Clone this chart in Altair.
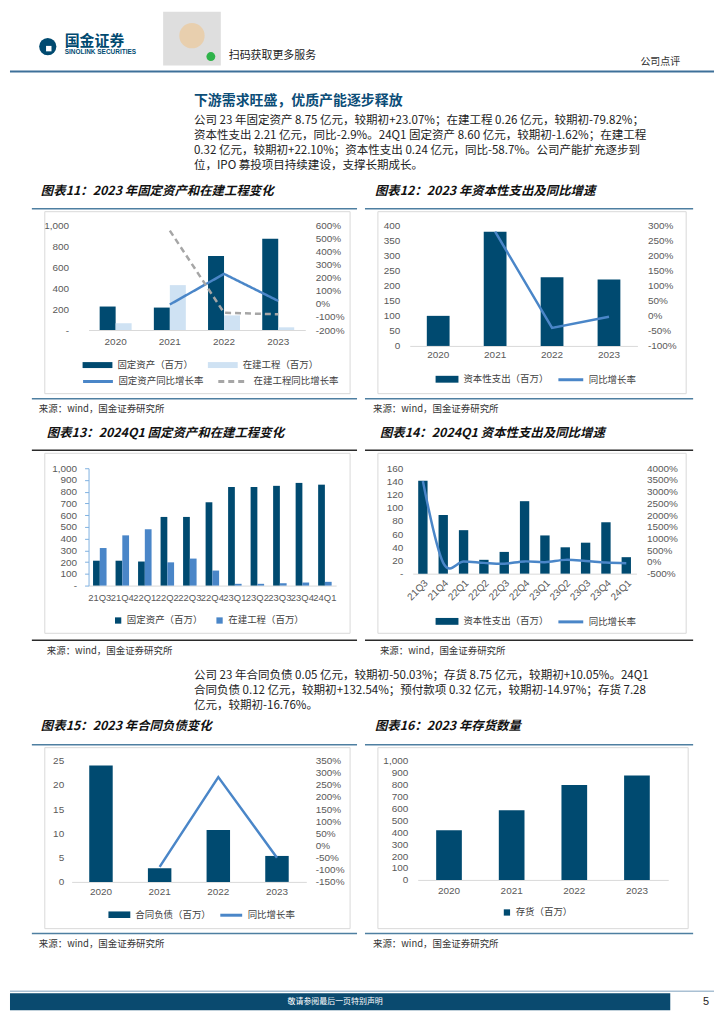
import altair as alt
import pandas as pd

# ---------------- data ----------------
years = ["2020", "2021", "2022", "2023"]
fixed_assets = [225, 215, 710, 875]
construction = [65, 430, 140, 26]
fixed_yoy = [None, -4.4, 230.2, 23.07]
construction_yoy = [None, 561.5, -67.4, -79.82]

capex = [100, 380, 228, 221]
capex_yoy = [None, 280.0, -40.0, -2.9]

quarters = ["21Q3", "21Q4", "22Q1", "22Q2", "22Q3", "22Q4", "23Q1", "23Q2", "23Q3", "23Q4", "24Q1"]
fixed_q = [212, 212, 205, 585, 585, 710, 840, 840, 850, 875, 860]
construction_q = [320, 428, 480, 198, 230, 128, 15, 15, 20, 26, 32]

capex_q = [141, 89, 66, 21, 33, 110, 58, 40, 47, 78, 25]
capex_q_yoy = [3450, -40, 20, -40, -76, 23, -12, 88, 42, -29, -58.7]

contract = [24.0, 2.8, 10.7, 5.35]
contract_yoy = [None, -88.3, 282.1, -50.03]

inventory = [417, 583, 795, 875]

S_FA = "固定资产（百万）"
S_CIP = "在建工程（百万）"
S_FA_Y = "固定资产同比增长率"
S_CIP_Y = "在建工程同比增长率"
S_CAPEX = "资本性支出（百万）"
S_YOY = "同比增长率"
S_CL = "合同负债（百万）"
S_INV = "存货（百万）"

para1 = [
    "公司 23 年固定资产 8.75 亿元，较期初+23.07%；在建工程 0.26 亿元，较期初-79.82%；",
    "资本性支出 2.21 亿元，同比-2.9%。24Q1 固定资产 8.60 亿元，较期初-1.62%；在建工程",
    "0.32 亿元，较期初+22.10%；资本性支出 0.24 亿元，同比-58.7%。公司产能扩充逐步到",
    "位，IPO 募投项目持续建设，支撑长期成长。",
]
para2 = [
    "公司 23 年合同负债 0.05 亿元，较期初-50.03%；存货 8.75 亿元，较期初+10.05%。24Q1",
    "合同负债 0.12 亿元，较期初+132.54%；预付款项 0.32 亿元，较期初-14.97%；存货 7.28",
    "亿元，较期初-16.76%。",
]

# ---------------- style ----------------
CJK = "Noto Sans CJK SC"
FONT = "Liberation Sans"
DARK = "#004a70"
LIGHT = "#cfe2f3"
MID = "#4a86c8"
LINEC = "#4a86c8"
GRAYD = "#a6a6a6"
AX = "#595959"
BOXC = "#d9d9d9"
RULEB = "#4e7fa1"
RULEK = "#2b2b2b"
SRC = "来源：wind，国金证券研究所"
PSIZE = 11.6
PSTEP = 15.3

ONE = pd.DataFrame({"k": [0]})


def txt(o, x, y, s, size=12, color="#222222", weight="normal", style="normal", align="left", font=CJK):
    return alt.Chart(ONE).mark_text(
        text=s, align=align, baseline="middle", fontSize=size, color=color,
        font=font, fontWeight=weight, fontStyle=style
    ).encode(x=alt.value(x - o[0]), y=alt.value(y - o[1]))


def rule(o, x1, x2, y1, y2, color, sw=1.0):
    return alt.Chart(ONE).mark_rule(color=color, strokeWidth=sw).encode(
        x=alt.value(x1 - o[0]), x2=alt.value(x2 - o[0]),
        y=alt.value(y1 - o[1]), y2=alt.value(y2 - o[1]))


def rect(o, x1, x2, y1, y2, fill="transparent", stroke=None, sw=1.0):
    kw = {"fill": fill}
    if stroke:
        kw["stroke"] = stroke
        kw["strokeWidth"] = sw
    return alt.Chart(ONE).mark_rect(**kw).encode(
        x=alt.value(x1 - o[0]), x2=alt.value(x2 - o[0]),
        y=alt.value(y1 - o[1]), y2=alt.value(y2 - o[1]))


def dot(o, x, y, size, color, shape="circle"):
    return alt.Chart(ONE).mark_point(shape=shape, size=size, fill=color, filled=True, opacity=1,
                                     strokeWidth=0).encode(x=alt.value(x - o[0]), y=alt.value(y - o[1]))


def panel_deco(o, title, tpos, rx, rtop, rbot, rcolor, bx, src_pos):
    return [
        txt(o, tpos[0], tpos[1], title, size=12.5, color="#111111", weight="bold", style="italic"),
        rule(o, rx[0], rx[1], rtop, rtop, rcolor, 1.5),
        rect(o, bx[0], bx[1], bx[2], bx[3], stroke=BOXC, sw=1),
        rule(o, rx[0], rx[1], rbot, rbot, rcolor, 1.5),
        txt(o, src_pos[0], src_pos[1], SRC, size=9.5, color="#333333"),
    ]


def xenc(cats, pi, pad, angle=0, size=10, rng=None):
    sk = dict(domain=cats, paddingInner=pi, paddingOuter=pi / 2)
    if rng:
        sk["range"] = rng
    return alt.X("cat:N", sort=cats, scale=alt.Scale(**sk),
                 axis=alt.Axis(title=None, labelAngle=angle, labelPadding=pad, labelFontSize=size,
                               labelColor=AX, labelFont=FONT, domainColor=BOXC, ticks=False,
                               tickSize=0, grid=False))


def yaxis(values, expr, pad, orient="left", domain=False, dcolor=None):
    kw = dict(values=values, labelExpr=expr, grid=False, labelPadding=pad, labelFontSize=10,
              labelColor=AX, labelFont=FONT, title=None, orient=orient)
    if domain:
        kw.update(domain=True, domainColor=dcolor, ticks=True, tickColor=dcolor, tickSize=4)
    else:
        kw.update(domain=False, ticks=False, tickSize=0)
    return alt.Axis(**kw)


def legend(x, y, stype, ssize, colpad=12, sw=None):
    kw = dict(title=None, orient="none", legendX=x, legendY=y, direction="horizontal",
              symbolType=stype, symbolSize=ssize, labelFont=CJK, labelFontSize=9.5,
              labelColor="#404040", labelOffset=4, columnPadding=colpad, padding=0)
    if sw:
        kw["symbolStrokeWidth"] = sw
    return alt.Legend(**kw)


def bar_path(h):
    return "M-1,-%sH1V%sH-1Z" % (h, h)


ZERO_DASH = "datum.value == 0 ? '-' : format(datum.value, ',')"
PLAIN = "format(datum.value, ',')"
PCT = "datum.value + '%'"


def long_df(cats, series_list):
    rows = []
    for name, arr in series_list:
        for c, v in zip(cats, arr):
            if v is not None:
                rows.append({"cat": c, "series": name, "value": v})
    return pd.DataFrame(rows)


# ---------------- chart 11 (+ page header) ----------------
o11 = (87, 223)
header_layers = [
    dot(o11, 46, 43, 300, DARK),
    dot(o11, 47, 45, 30, "white", shape="square"),
    txt(o11, 63, 37, "国金证券", size=15, color=DARK, weight="bold"),
    txt(o11, 63, 48, "SINOLINK SECURITIES", size=6.5, color=DARK, weight="bold", font=FONT),
    rect(o11, 162, 220, 8, 62, fill="#dedede"),
    dot(o11, 191, 32, 650, "#e8cfae"),
    dot(o11, 210, 53, 80, "#2fb34a"),
    txt(o11, 228, 52, "扫码获取更多服务", size=11, color="#222222"),
    txt(o11, 642, 58, "公司点评", size=10, color="#333333"),
    rule(o11, 8, 716, 68, 68, "#3e7099", 2),
    txt(o11, 193, 98, "下游需求旺盛，优质产能逐步释放", size=14, color="#0b4d77", weight="bold"),
]
for i, line in enumerate(para1):
    header_layers.append(txt(o11, 193, 117.5 + PSTEP * i, line, size=PSIZE, color="#222222"))

x11 = xenc(years, 0.41, 7)
df11b = long_df(years, [(S_FA, fixed_assets), (S_CIP, construction)])
df11l = long_df(years, [(S_FA_Y, fixed_yoy), (S_CIP_Y, construction_yoy)])
bars11 = alt.Chart(df11b).mark_bar().encode(
    x=x11,
    xOffset=alt.XOffset("series:N", sort=[S_FA, S_CIP], scale=alt.Scale(domain=[S_FA, S_CIP], paddingInner=0, paddingOuter=0)),
    y=alt.Y("value:Q", scale=alt.Scale(domain=[0, 1000], nice=False),
            axis=yaxis(list(range(0, 1001, 200)), ZERO_DASH, 20)),
    fill=alt.Fill("series:N", scale=alt.Scale(domain=[S_FA, S_CIP], range=[DARK, LIGHT]),
                  legend=legend(-7, 124, bar_path(0.2), 900, colpad=13)),
)
leg11 = legend(-7, 140, "stroke", 900, colpad=8, sw=3)
lines11 = alt.Chart(df11l).mark_line(strokeWidth=2.5).encode(
    x=x11,
    y=alt.Y("value:Q", scale=alt.Scale(domain=[-200, 600], nice=False),
            axis=yaxis(list(range(-200, 601, 100)), PCT, 10, orient="right")),
    stroke=alt.Stroke("series:N", scale=alt.Scale(domain=[S_FA_Y, S_CIP_Y], range=[LINEC, GRAYD]), legend=leg11),
    strokeDash=alt.StrokeDash("series:N", scale=alt.Scale(domain=[S_FA_Y, S_CIP_Y], range=[[1, 0], [6, 4]]), legend=leg11),
)
p11 = alt.layer(
    *header_layers,
    *panel_deco(o11, "图表11：2023 年固定资产和在建工程变化", (39, 188),
                (30, 357), 206, 397, RULEB, (43, 350, 209, 392), (37, 407)),
    bars11, lines11
).resolve_scale(y="independent").properties(width=218, height=105)

# ---------------- chart 12 ----------------
o12 = (410, 223)
x12 = xenc(years, 0.6, 4)
df12b = long_df(years, [(S_CAPEX, capex)])
df12l = long_df(years, [(S_YOY, capex_yoy)])
bars12 = alt.Chart(df12b).mark_bar().encode(
    x=x12,
    y=alt.Y("value:Q", scale=alt.Scale(domain=[0, 400], nice=False),
            axis=yaxis(list(range(0, 401, 50)), PLAIN, 10)),
    fill=alt.Fill("series:N", scale=alt.Scale(domain=[S_CAPEX], range=[DARK]),
                  legend=legend(25, 142, bar_path(0.3), 529)),
)
lines12 = alt.Chart(df12l).mark_line(strokeWidth=2.5).encode(
    x=x12,
    y=alt.Y("value:Q", scale=alt.Scale(domain=[-100, 300], nice=False),
            axis=yaxis(list(range(-100, 301, 50)), PCT, 10, orient="right")),
    stroke=alt.Stroke("series:N", scale=alt.Scale(domain=[S_YOY], range=[LINEC]),
                      legend=legend(148, 141, "stroke", 625, sw=3)),
)
p12 = alt.layer(
    *panel_deco(o12, "图表12：2023 年资本性支出及同比增速", (375, 188),
                (365, 695), 206, 397, RULEB, (378, 688, 209, 392), (373, 407)),
    bars12, lines12
).resolve_scale(y="independent").properties(width=229, height=121)

# ---------------- chart 13 (+ text block 2) ----------------
o13 = (87, 467)
text2_layers = [txt(o13, 193, 676 + PSTEP * i, line, size=PSIZE, color="#222222") for i, line in enumerate(para2)]
x13 = xenc(quarters, 0.4, 7, size=9.5)
df13b = long_df(quarters, [(S_FA, fixed_q), (S_CIP, construction_q)])
bars13 = alt.Chart(df13b).mark_bar().encode(
    x=x13,
    xOffset=alt.XOffset("series:N", sort=[S_FA, S_CIP], scale=alt.Scale(domain=[S_FA, S_CIP], paddingInner=0, paddingOuter=0)),
    y=alt.Y("value:Q", scale=alt.Scale(domain=[0, 1000], nice=False),
            axis=yaxis(list(range(0, 1001, 100)), ZERO_DASH, 8, domain=True, dcolor="#7fb0e0")),
    fill=alt.Fill("series:N", scale=alt.Scale(domain=[S_FA, S_CIP], range=[DARK, MID]),
                  legend=legend(25, 148, "square", 40, colpad=12)),
)
p13 = alt.layer(
    *text2_layers,
    *panel_deco(o13, "图表13：2024Q1 固定资产和在建工程变化", (45, 432),
                (30, 357), 449, 640, RULEK, (43, 350, 452, 633), (45, 651)),
    bars13
).properties(width=249, height=118)

# ---------------- chart 14 ----------------
o14 = (410, 467)
x14 = xenc(quarters, 0.54, 4, angle=-45, rng=[3, 228])
df14b = long_df(quarters, [(S_CAPEX, capex_q)])
df14l = long_df(quarters, [(S_YOY, capex_q_yoy)])
bars14 = alt.Chart(df14b).mark_bar().encode(
    x=x14,
    y=alt.Y("value:Q", scale=alt.Scale(domain=[0, 160], nice=False),
            axis=yaxis(list(range(0, 161, 20)), ZERO_DASH, 7)),
    fill=alt.Fill("series:N", scale=alt.Scale(domain=[S_CAPEX], range=[DARK]),
                  legend=legend(25, 141.5, bar_path(0.3), 529)),
)
lines14 = alt.Chart(df14l).mark_line(strokeWidth=2.5, interpolate="cardinal").encode(
    x=x14,
    y=alt.Y("value:Q", scale=alt.Scale(domain=[-500, 4000], nice=False),
            axis=yaxis(list(range(-500, 4001, 500)), PCT, 10, orient="right")),
    stroke=alt.Stroke("series:N", scale=alt.Scale(domain=[S_YOY], range=[LINEC]),
                      legend=legend(148, 140.5, "stroke", 625, sw=3)),
)
p14 = alt.layer(
    *panel_deco(o14, "图表14：2024Q1 资本性支出及同比增速", (380, 432),
                (365, 695), 449, 640, RULEK, (378, 688, 452, 633), (380, 651)),
    bars14, lines14
).resolve_scale(y="independent").properties(width=228, height=106)

# ---------------- chart 15 (+ page footer) ----------------
o15 = (87, 761)
footer_layers = [
    rule(o15, 8, 716, 993, 993, "#a9c0d3", 1.5),
    rect(o15, 8, 672, 995, 1012, fill="#0a4a6f"),
    txt(o15, 335, 1003.5, "敬请参阅最后一页特别声明", size=8, color="white", align="center"),
    txt(o15, 708, 1003.5, "5", size=11, color="#222222", align="center", font=FONT),
]
x15 = xenc(years, 0.6, 5, rng=[-17, 219])
df15b = long_df(years, [(S_CL, contract)])
df15l = long_df(years, [(S_YOY, contract_yoy)])
bars15 = alt.Chart(df15b).mark_bar().encode(
    x=x15,
    y=alt.Y("value:Q", scale=alt.Scale(domain=[0, 25], nice=False),
            axis=yaxis(list(range(0, 26, 5)), PLAIN, 25)),
    fill=alt.Fill("series:N", scale=alt.Scale(domain=[S_CL], range=[DARK]),
                  legend=legend(19, 143, bar_path(0.3), 484)),
)
lines15 = alt.Chart(df15l).mark_line(strokeWidth=2.5).encode(
    x=x15,
    y=alt.Y("value:Q", scale=alt.Scale(domain=[-150, 350], nice=False),
            axis=yaxis(list(range(-150, 351, 50)), PCT, 9, orient="right")),
    stroke=alt.Stroke("series:N", scale=alt.Scale(domain=[S_YOY], range=[LINEC]),
                      legend=legend(131, 143, "stroke", 484, sw=3)),
)
p15 = alt.layer(
    *footer_layers,
    *panel_deco(o15, "图表15：2023 年合同负债变化", (39, 726),
                (30, 357), 745, 935, RULEB, (43, 350, 748, 930), (37, 945)),
    bars15, lines15
).resolve_scale(y="independent").properties(width=219, height=122)

# ---------------- chart 16 ----------------
o16 = (410, 761)
x16 = xenc(years, 0.59, 6, rng=[8, 260])
df16b = long_df(years, [(S_INV, inventory)])
bars16 = alt.Chart(df16b).mark_bar().encode(
    x=x16,
    y=alt.Y("value:Q", scale=alt.Scale(domain=[0, 1000], nice=False),
            axis=yaxis(list(range(0, 1001, 100)), PLAIN, 2)),
    fill=alt.Fill("series:N", scale=alt.Scale(domain=[S_INV], range=[DARK]),
                  legend=legend(93, 148, "square", 40)),
)
p16 = alt.layer(
    *panel_deco(o16, "图表16：2023 年存货数量", (375, 726),
                (365, 695), 745, 935, RULEB, (378, 690, 748, 930), (373, 945)),
    bars16
).properties(width=229, height=120)


# invisible spacer cells that fix each row's height
def spacer(h):
    return alt.Chart(ONE).mark_point(opacity=0).encode(x=alt.value(0), y=alt.value(0)).properties(width=1, height=h)


chart = alt.concat(
    p11, p12, spacer(1),
    p13, p14, spacer(171),
    p15, p16, spacer(1),
    columns=3, spacing={"row": 123, "column": 74}, align="each", bounds="flush",
).resolve_scale(
    fill="independent", stroke="independent", strokeDash="independent", xOffset="independent"
).resolve_legend(
    fill="independent", stroke="independent", strokeDash="independent"
).properties(padding=0).configure_view(stroke="transparent")

chart.save("out.html", embed_options={"renderer": "svg", "actions": False})
